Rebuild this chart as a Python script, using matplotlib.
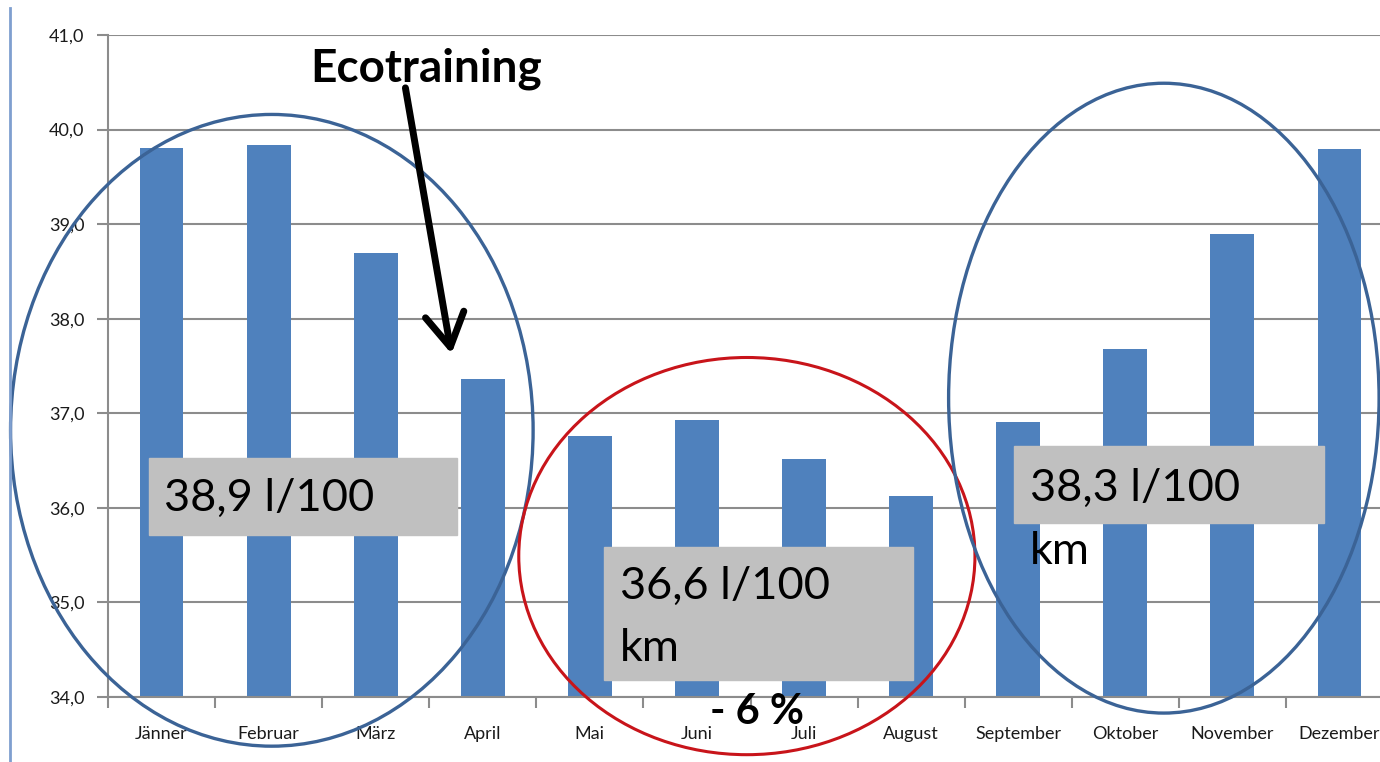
import matplotlib
matplotlib.use("Agg")
import matplotlib.pyplot as plt
from matplotlib.patches import Ellipse, Rectangle
from matplotlib.lines import Line2D

plt.rcParams['font.family'] = ['Lato', 'DejaVu Sans']

# Monthly fuel consumption (l/100 km)
months = ["Jänner", "Februar", "März", "April", "Mai", "Juni",
          "Juli", "August", "September", "Oktober", "November", "Dezember"]
consumption = [39.80, 39.84, 38.70, 37.36, 36.76, 36.93,
               36.52, 36.13, 36.91, 37.68, 38.90, 39.79]
y_ticks = [34.0, 35.0, 36.0, 37.0, 38.0, 39.0, 40.0, 41.0]
y_tick_labels = [f"{v:.1f}".replace(".", ",") for v in y_ticks]

bar_color = "#4f81bd"
grid_color = "#8c8c8c"

fig = plt.figure(figsize=(13.8, 7.62), dpi=100)
ax = fig.add_axes([108 / 1380, 1 - 697 / 762, 1285 / 1380, 662 / 762])

x = list(range(len(months)))
ax.bar(x, consumption, width=0.41, color=bar_color, zorder=2)

ax.set_xlim(-0.5, 11.5)
ax.set_ylim(34, 41)
ax.set_yticks(y_ticks)
ax.set_yticklabels(y_tick_labels, fontsize=13, color="#1a1a1a")
ax.set_xticks(x)
ax.set_xticklabels(months, fontsize=13, color="#1a1a1a")
ax.set_xticks([i + 0.5 for i in range(-1, 12)], minor=True)
ax.tick_params(axis="x", which="major", length=0, pad=21)
ax.tick_params(axis="x", which="minor", length=8, color=grid_color, width=1.5)
ax.tick_params(axis="y", length=8, color=grid_color, width=1.5, pad=9)
ax.grid(axis="y", color=grid_color, lw=1.5, zorder=0)
ax.set_axisbelow(True)
for side in ["top", "right"]:
    ax.spines[side].set_visible(False)
for side in ["left", "bottom"]:
    ax.spines[side].set_color(grid_color)
    ax.spines[side].set_linewidth(1.5)

# light border line on the left
fig.add_artist(Line2D([10 / 1380, 10 / 1380], [0, 1 - 8 / 762],
                      transform=fig.transFigure, color="#7f9fcf", lw=2))

# ellipses
ell_blue = "#3b6396"
ax.add_patch(Ellipse((1.03, 36.82), 4.88, 6.68, fill=False, ec=ell_blue,
                     lw=2.4, zorder=5, clip_on=False))
ax.add_patch(Ellipse((5.466, 35.49), 4.26, 4.20, fill=False, ec="#c8141a",
                     lw=2.2, zorder=5, clip_on=False))
ax.add_patch(Ellipse((9.36, 37.16), 4.02, 6.66, fill=False, ec=ell_blue,
                     lw=2.4, zorder=5, clip_on=False))

# grey label boxes
box_color = "#c0c0c0"
ax.add_patch(Rectangle((-0.117, 35.713), 2.876, 0.814, color=box_color, zorder=4))
ax.add_patch(Rectangle((4.131, 34.18), 2.885, 1.406, color=box_color, zorder=4, clip_on=False))
ax.add_patch(Rectangle((7.959, 35.84), 2.895, 0.814, color=box_color, zorder=4))

txt = dict(fontsize=32.5, color="black", va="center", ha="left", zorder=6)
ax.text(0.02, 36.10, "38,9 l/100", **txt)
ax.text(4.28, 35.17, "36,6 l/100", **txt)
ax.text(4.28, 34.51, "km", **txt)
ax.text(8.11, 36.21, "38,3 l/100", **txt)
ax.text(8.11, 35.54, "km", **txt)

ax.text(1.386, 40.64, "Ecotraining", fontsize=33, fontweight="bold",
        va="center", ha="left", zorder=6)
ax.annotate("", xy=(2.712, 37.60), xytext=(2.273, 40.47),
            arrowprops=dict(arrowstyle="->,head_length=1.7,head_width=1.0",
                            mutation_scale=14, color="black", lw=5), zorder=6)

ax.text(5.56, 33.84, "- 6 %", fontsize=30, fontweight="bold",
        va="center", ha="center", zorder=6, clip_on=False)

fig.savefig("out.png", dpi=100)
